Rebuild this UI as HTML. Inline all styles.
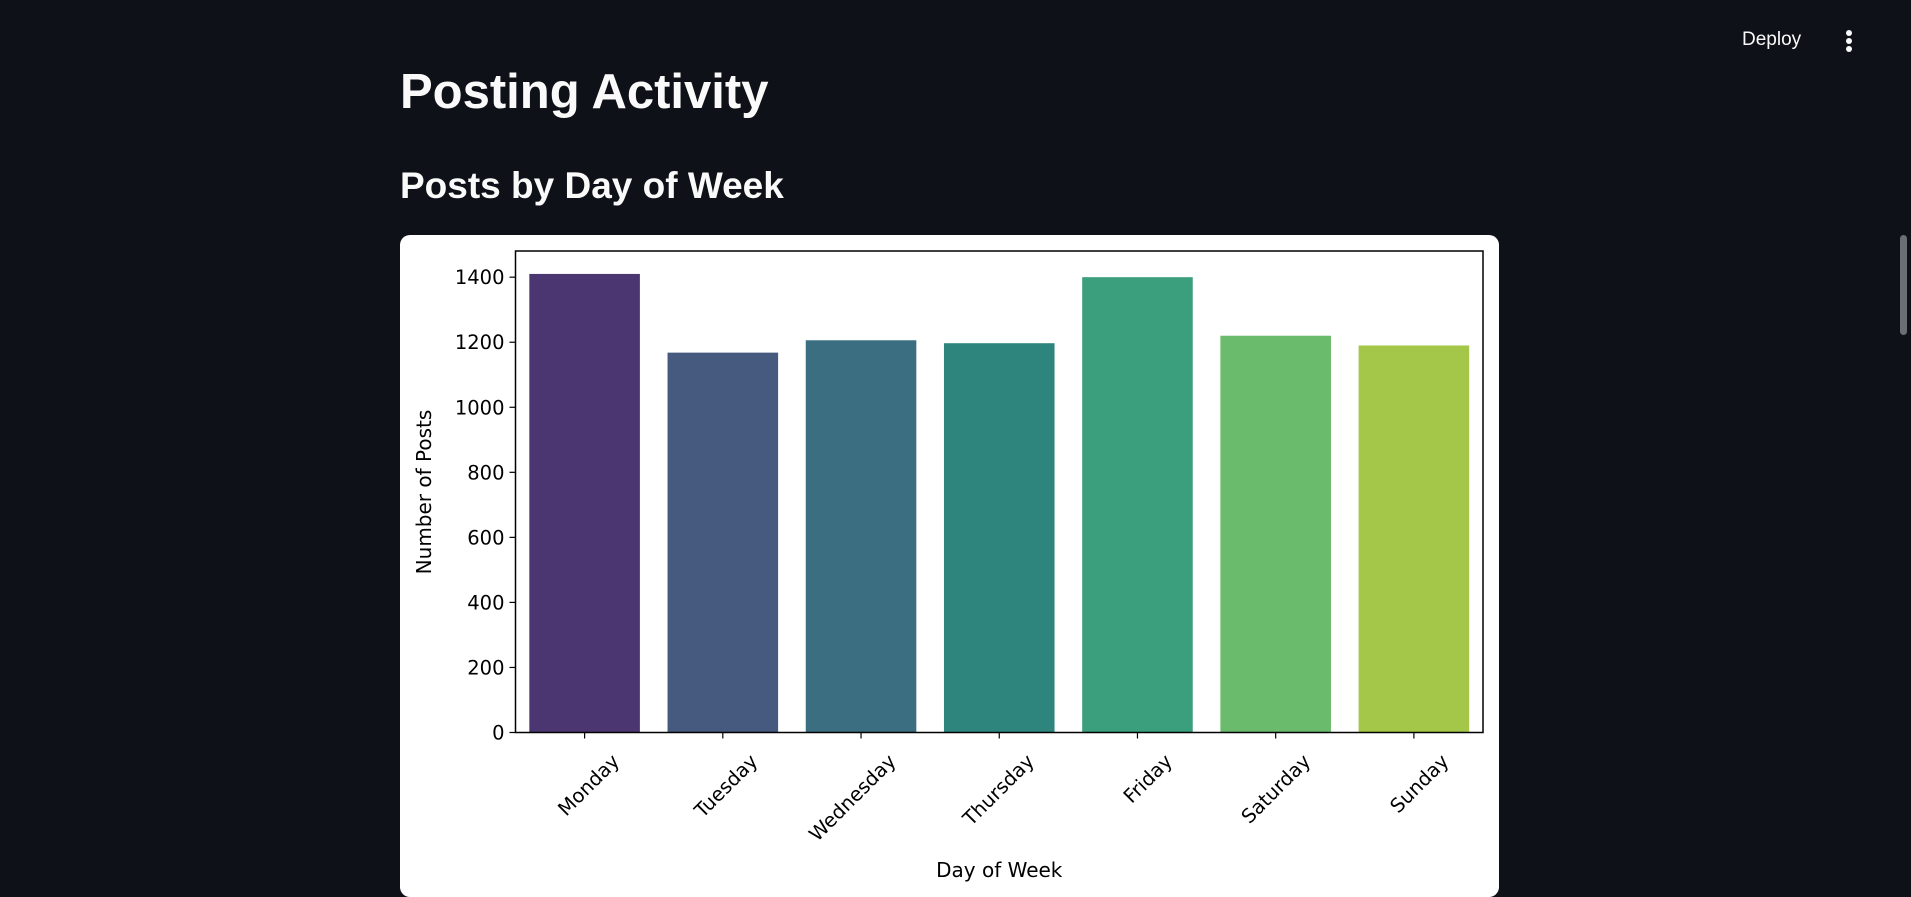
<!DOCTYPE html>
<html><head><meta charset="utf-8"><style>
html,body{margin:0;padding:0;width:1911px;height:897px;overflow:hidden;background:#0e1117;font-family:"Liberation Sans","DejaVu Sans",sans-serif;}
.abs{position:absolute}
</style></head><body>
<div class="abs" style="left:1742px;top:29px;font-size:19px;color:#fafafa;">Deploy</div>
<div class="abs" style="left:1846px;top:30px;width:8px;height:22px;">
<div style="width:6px;height:6px;border-radius:3px;background:#fafafa;margin-bottom:2px"></div>
<div style="width:6px;height:6px;border-radius:3px;background:#fafafa;margin-bottom:2px"></div>
<div style="width:6px;height:6px;border-radius:3px;background:#fafafa"></div></div>
<div class="abs" style="left:400px;top:64px;font-size:49px;font-weight:bold;color:#fafafa;">Posting Activity</div>
<div class="abs" style="left:400px;top:165px;font-size:37px;font-weight:bold;color:#fafafa;">Posts by Day of Week</div>
<div class="abs" style="left:1900px;top:235px;width:7px;height:100px;border-radius:4px;background:#6b6e75;"></div>
<div class="abs" style="left:400px;top:235px;width:1099px;height:662px;background:#fff;border-radius:10px;"></div>
<svg class="abs" style="left:0;top:0" width="1911" height="897" id="chart"></svg>
<script>
const categories=["Monday","Tuesday","Wednesday","Thursday","Friday","Saturday","Sunday"];
const values=[1410,1168,1206,1197,1400,1220,1190];
const colors=["#4b3672","#46597f","#3b6e80","#2e857d","#3b9f7e","#6bbb6c","#a4c74a"];
const yTicks=[0,200,400,600,800,1000,1200,1400];
const NS="http://www.w3.org/2000/svg";
const svg=document.getElementById('chart');
const L=515.5,R=1483,T=251,B=732.5,YMAX=1480.5;
const y=v=>B-(v/YMAX)*(B-T);
const step=(R-L)/categories.length;
const x=i=>L+step*(i+0.5);
function mk(t,a){const e=document.createElementNS(NS,t);for(const k in a)e.setAttribute(k,a[k]);svg.appendChild(e);return e;}
values.forEach((v,i)=>{
 const r=mk('rect',{x:x(i)-step*0.4,y:y(v),width:step*0.8,height:B-y(v),fill:colors[i]});
 
 
});
mk('rect',{x:L,y:T,width:R-L,height:B-T,fill:'none',stroke:'#000','stroke-width':1.5});
yTicks.forEach(t=>{
 mk('line',{x1:L-6,x2:L,y1:y(t),y2:y(t),stroke:'#000','stroke-width':1.2});
 const tx=mk('text',{x:L-11,y:y(t)+7,'text-anchor':'end','font-size':19.5,fill:'#000','font-family':'DejaVu Sans, sans-serif'});
 tx.textContent=t;
 
 
});
categories.forEach((c,i)=>{
 mk('line',{x1:x(i),x2:x(i),y1:B,y2:B+6,stroke:'#000','stroke-width':1.2});
 const ax=x(i)+36, ay=B+30;
 const tx=mk('text',{x:ax,y:ay,'text-anchor':'end','font-size':19.5,fill:'#000','font-family':'DejaVu Sans, sans-serif',transform:`rotate(-45 ${ax} ${ay})`});
 tx.textContent=c;
 
 
});
const xl=mk('text',{x:(L+R)/2,y:877,'text-anchor':'middle','font-size':20,fill:'#000','font-family':'DejaVu Sans, sans-serif'});
xl.textContent='Day of Week';


const yl=mk('text',{x:431,y:492,'text-anchor':'middle','font-size':20,fill:'#000','font-family':'DejaVu Sans, sans-serif',transform:'rotate(-90 431 492)'});
yl.textContent='Number of Posts';


</script>
</body></html>
